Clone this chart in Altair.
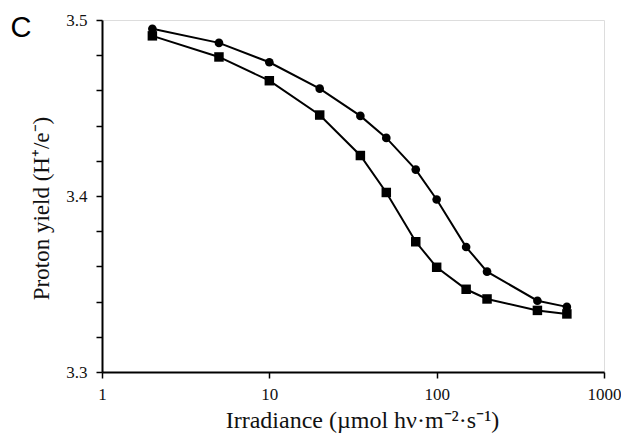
import altair as alt
import pandas as pd

# Data
irradiance = [2, 5, 10, 20, 35, 50, 75, 100, 150, 200, 400, 600]
yield_circle = [3.495, 3.487, 3.476, 3.461, 3.4455, 3.433, 3.415, 3.398, 3.371, 3.357, 3.3405, 3.337]
yield_square = [3.491, 3.479, 3.4655, 3.446, 3.423, 3.402, 3.374, 3.3595, 3.347, 3.3415, 3.335, 3.333]
x_ticks = [1, 10, 100, 1000]
y_ticks = [3.30, 3.32, 3.34, 3.36, 3.38, 3.40, 3.42, 3.44, 3.46, 3.48, 3.50]
panel_label = ["C"]

rows = []
for x, yc, ys in zip(irradiance, yield_circle, yield_square):
    rows.append({"irr": x, "val": yc, "series": "circle"})
    rows.append({"irr": x, "val": ys, "series": "square"})
df = pd.DataFrame(rows)

SERIF = "Times New Roman, Liberation Serif, serif"
SANS = "Arial, Liberation Sans, sans-serif"

x_enc = alt.X(
    "irr:Q",
    scale=alt.Scale(type="log", domain=[1, 1000], nice=False),
    axis=alt.Axis(
        values=x_ticks,
        format="~g",
        title="Irradiance (µmol hν·m⁻²·s⁻¹)",
        titleX=260,
        titleY=55,
        titleAlign="center",
        titleBaseline="alphabetic",
        titleFont=SERIF,
        titleFontSize=24,
        titleFontWeight="normal",
        titleColor="#111111",
        labelFont=SERIF,
        labelFontSize=17,
        labelColor="#111111",
        labelPadding=8,
        labelFlush=False,
        labelOverlap=False,
        tickSize=6,
        tickWidth=1.5,
        tickColor="black",
        domainColor="black",
        domainWidth=2,
        grid=False,
    ),
)

y_enc = alt.Y(
    "val:Q",
    scale=alt.Scale(domain=[3.3, 3.5], zero=False, nice=False),
    axis=alt.Axis(
        values=y_ticks,
        labelExpr="abs(datum.value*10 - round(datum.value*10)) < 0.001 ? format(datum.value, '.1f') : ''",
        title="Proton yield (H⁺/e⁻)",
        titleAngle=270,
        titleX=-54,
        titleY=188,
        titleAlign="center",
        titleBaseline="alphabetic",
        titleFont=SERIF,
        titleFontSize=23,
        titleFontWeight="normal",
        titleColor="#111111",
        labelFont=SERIF,
        labelFontSize=17,
        labelColor="#111111",
        labelPadding=9,
        labelFlush=False,
        labelOverlap=False,
        tickSize=6,
        tickWidth=1.5,
        tickColor="black",
        domainColor="black",
        domainWidth=2,
        grid=False,
    ),
)

base = alt.Chart(df)

lines = base.mark_line(color="black", strokeWidth=2).encode(
    x=x_enc, y=y_enc, detail="series:N"
)

points = base.mark_point(filled=True, opacity=1, color="black").encode(
    x=x_enc,
    y=y_enc,
    shape=alt.Shape(
        "series:N",
        scale=alt.Scale(domain=["circle", "square"], range=["circle", "square"]),
        legend=None,
    ),
    size=alt.Size(
        "series:N",
        scale=alt.Scale(domain=["circle", "square"], range=[75, 90]),
        legend=None,
    ),
)

label = alt.Chart(pd.DataFrame({"t": panel_label})).mark_text(
    font=SANS, fontSize=29, align="center", baseline="alphabetic", color="black"
).encode(text="t:N", x=alt.value(-81), y=alt.value(17))

chart = (
    alt.layer(lines, points, label)
    .properties(
        width=502,
        height=352,
        autosize=alt.AutoSizeParams(type="none"),
        padding={"left": 94, "top": 12, "right": 17, "bottom": 66},
    )
    .configure_view(stroke="black", strokeWidth=2)
    .configure(background="white")
)

chart.save("out.html", embed_options={"renderer": "svg", "actions": False})
